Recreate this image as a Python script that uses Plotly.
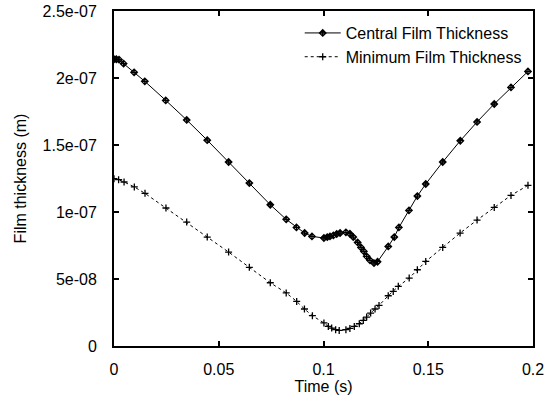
import plotly.graph_objects as go

# Central film thickness (time in s, thickness in m)
central_t = [0.0, 0.0011, 0.0024, 0.0046, 0.0096, 0.0147, 0.0247, 0.0347, 0.0445,
             0.0547, 0.0646, 0.0746, 0.0822, 0.0871, 0.0910, 0.0945, 0.1002, 0.1018,
             0.1031, 0.1047, 0.1063, 0.1079, 0.1107, 0.1126, 0.1142, 0.1163, 0.1179,
             0.1193, 0.1206, 0.1222, 0.1241, 0.1258, 0.1309, 0.1338, 0.1360, 0.1408,
             0.1448, 0.1488, 0.1569, 0.1653, 0.1733, 0.1815, 0.1895, 0.1976]
central_h = [2.140e-7, 2.140e-7, 2.137e-7, 2.107e-7, 2.042e-7, 1.975e-7, 1.833e-7,
             1.687e-7, 1.536e-7, 1.373e-7, 1.216e-7, 1.054e-7, 0.945e-7, 0.885e-7,
             0.843e-7, 0.818e-7, 0.806e-7, 0.813e-7, 0.818e-7, 0.825e-7, 0.836e-7,
             0.843e-7, 0.848e-7, 0.838e-7, 0.813e-7, 0.773e-7, 0.736e-7, 0.706e-7,
             0.669e-7, 0.639e-7, 0.619e-7, 0.629e-7, 0.743e-7, 0.813e-7, 0.885e-7,
             1.012e-7, 1.119e-7, 1.209e-7, 1.373e-7, 1.532e-7, 1.672e-7, 1.806e-7,
             1.930e-7, 2.049e-7]

# Minimum film thickness
minimum_t = [0.0, 0.0022, 0.0048, 0.0097, 0.0148, 0.0248, 0.0347, 0.0445, 0.0547,
             0.0646, 0.0746, 0.0822, 0.0872, 0.0909, 0.0947, 0.1002, 0.1023, 0.1039,
             0.1058, 0.1075, 0.1107, 0.1126, 0.1147, 0.1171, 0.1190, 0.1206, 0.1225,
             0.1246, 0.1265, 0.1309, 0.1333, 0.1357, 0.1409, 0.1448, 0.1488, 0.1569,
             0.1652, 0.1733, 0.1815, 0.1895, 0.1976]
minimum_h = [1.249e-7, 1.241e-7, 1.224e-7, 1.187e-7, 1.139e-7, 1.030e-7, 0.925e-7,
             0.813e-7, 0.701e-7, 0.587e-7, 0.472e-7, 0.396e-7, 0.333e-7, 0.276e-7,
             0.226e-7, 0.172e-7, 0.146e-7, 0.134e-7, 0.122e-7, 0.116e-7, 0.122e-7,
             0.131e-7, 0.146e-7, 0.166e-7, 0.191e-7, 0.216e-7, 0.246e-7, 0.276e-7,
             0.303e-7, 0.375e-7, 0.407e-7, 0.445e-7, 0.507e-7, 0.569e-7, 0.631e-7,
             0.736e-7, 0.843e-7, 0.940e-7, 1.034e-7, 1.124e-7, 1.199e-7]

x_tickvals = [0, 0.05, 0.1, 0.15, 0.2]
x_ticktext = ["0", "0.05", "0.1", "0.15", "0.2"]
y_tickvals = [0, 5e-8, 1e-7, 1.5e-7, 2e-7, 2.5e-7]
y_ticktext = ["0", "5e-08", "1e-07", "1.5e-07", "2e-07", "2.5e-07"]

FONT = "Liberation Sans, Arial, sans-serif"

fig = go.Figure()
fig.add_trace(go.Scatter(
    x=central_t, y=central_h, mode="lines+markers", name="Central Film Thickness",
    line=dict(color="black", width=1),
    marker=dict(symbol="diamond-cross-open", size=5, color="black", line=dict(width=1.3, color="black")),
))
fig.add_trace(go.Scatter(
    x=minimum_t, y=minimum_h, mode="lines+markers", name="Minimum Film Thickness",
    line=dict(color="black", width=1, dash="dot"),
    marker=dict(symbol="cross-thin-open", size=5, color="black", line=dict(width=1.3, color="black")),
))

fig.update_layout(
    width=544, height=398,
    margin=dict(l=114, r=11, t=11, b=52),
    paper_bgcolor="white", plot_bgcolor="white",
    font=dict(family=FONT, size=16, color="black"),
    showlegend=True,
    legend=dict(x=0.985, y=0.985, xanchor="right", yanchor="top",
                bgcolor="rgba(0,0,0,0)", font=dict(size=16, family=FONT, color="black"),
                tracegroupgap=0, itemwidth=36),
)
fig.update_xaxes(
    range=[0, 0.2], tickvals=x_tickvals, ticktext=x_ticktext, automargin=False,
    ticklabeloverflow="allow",
    showgrid=False, zeroline=False, showline=True, linecolor="black", linewidth=2,
    mirror="ticks", ticks="inside", ticklen=5, tickwidth=1.5, tickcolor="black",
    ticklabelstandoff=8, tickfont=dict(size=16, color="black"),
    title=dict(text="Time (s)", standoff=0, font=dict(size=16, color="black")),
)
fig.update_yaxes(
    range=[0, 2.5e-7], tickvals=y_tickvals, ticktext=y_ticktext, automargin=False,
    ticklabeloverflow="allow",
    showgrid=False, zeroline=False, showline=True, linecolor="black", linewidth=2,
    mirror="ticks", ticks="inside", ticklen=5, tickwidth=1.5, tickcolor="black",
    ticklabelstandoff=12, tickfont=dict(size=16, color="black"),
    title=dict(text="Film thickness (m)", standoff=12, font=dict(size=16, color="black")),
)

fig.write_html("out.html", config={"displayModeBar": False},
               post_script="document.body.style.margin='0';document.body.style.overflow='hidden';")
